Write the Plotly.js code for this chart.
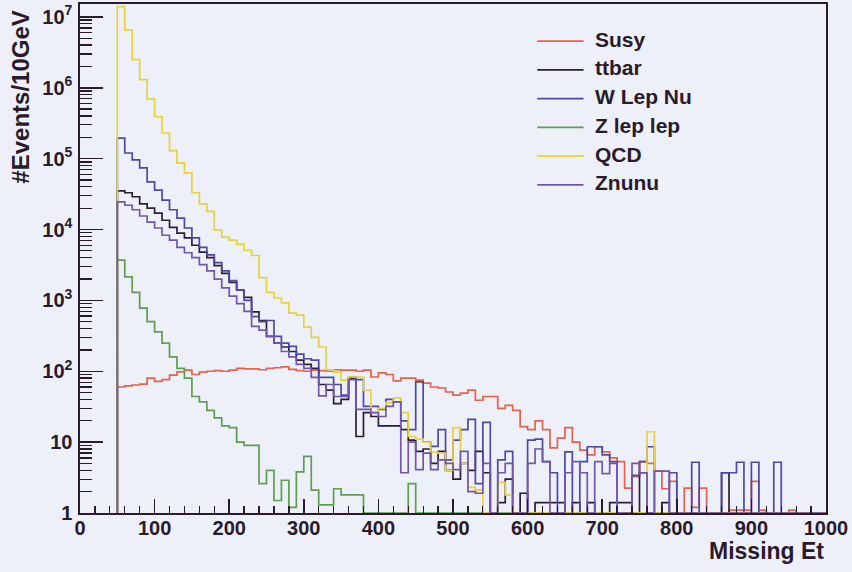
<!DOCTYPE html>
<html>
<head>
<meta charset="utf-8">
<script src="https://cdn.plot.ly/plotly-3.0.1.min.js"></script>
<style>
html,body{margin:0;padding:0;background:#edf0f8;}
#chart{width:852px;height:572px;}
</style>
</head>
<body>
<div id="chart"></div>
<script>
// Histogram bins: 10 GeV wide, first bin starts at 50 GeV (95 bins up to 1000 GeV)
const binLow = 50;
const binWidth = 10;
const seriesNames = ["Susy", "ttbar", "W Lep Nu", "Z lep lep", "QCD", "Znunu"];

const susy = [
  60, 62, 64, 66, 80, 72, 76, 88, 98, 104,
  90, 97, 100, 102, 100, 104, 110, 108, 108, 105,
  110, 112, 115, 106, 102, 100, 104, 102, 100, 105,
  104, 104, 100, 104, 83, 95, 90, 73, 80, 80,
  75, 68, 60, 58, 51, 46, 49, 54, 39, 44,
  44, 30, 33, 28, 16.5, 15, 20, 15, 8.3, 11.4,
  16, 10, 7.7, 6.6, 8.6, 7.3, 6, 5.3, 2.25, 3.25,
  5.3, 5, 3.9, 2.2, 2.8, 0, 2.25, 1.2, 2.25, 0,
  0, 0, 1.1, 1.1, 1.1, 2.8, 1.1, 0, 0, 0,
  1.1, 0, 0, 0, 0
];
const ttbar = [
  3.5e4, 3.3e4, 2.9e4, 2.3e4, 2.0e4, 1.7e4, 1.35e4, 1.07e4, 8.9e3, 7.6e3,
  6.0e3, 4.8e3, 4.0e3, 3.1e3, 2.4e3, 1.8e3, 1.4e3, 1.1e3, 690, 520,
  310, 250, 220, 190, 144, 125, 110, 65, 54, 35,
  40, 78, 12, 26, 23, 17, 17, 17, 15, 10.7,
  7.4, 8, 5, 7.4, 4, 3, 5, 4, 7.4, 3.7,
  0, 1.4, 3, 0, 1.9, 0, 1.4, 1.4, 1.4, 1.4,
  0, 1.4, 0, 1.4, 0, 0, 1.4, 1.4, 1.4, 0,
  3.7, 0, 0, 1.4, 0, 0, 0, 0, 0, 0,
  0, 3.7, 0, 0, 0, 0, 0, 0, 0, 0,
  0, 0, 0, 0, 0
];
const wLepNu = [
  1.95e5, 1.2e5, 9.6e4, 7.4e4, 4.7e4, 3.6e4, 2.6e4, 1.9e4, 1.45e4, 1.05e4,
  7.6e3, 5.6e3, 4.4e3, 3.4e3, 2.6e3, 1.9e3, 1.4e3, 1.0e3, 590, 500,
  520, 310, 250, 225, 175, 150, 144, 82, 82, 65,
  46, 82, 76, 32, 32, 29, 40, 37, 20, 15,
  71, 10, 8.7, 15, 5.6, 10.7, 15, 21, 2.6, 19,
  0, 5.6, 7.4, 0, 0, 10.7, 11, 5.3, 3.7, 0,
  7.3, 0, 5.3, 8.6, 8.6, 6.6, 5.3, 0, 0, 3.4,
  5.3, 8.6, 0, 0, 3.7, 0, 0, 5.2, 0, 0,
  0, 3.7, 3.7, 5.2, 0, 5.2, 0, 0, 5.2, 0,
  0, 0, 0, 0, 0
];
const zLepLep = [
  3700, 2150, 1300, 780, 500, 360, 250, 160, 110, 80,
  44, 37, 28, 22, 17, 16, 10, 9, 9, 2.6,
  4, 1.5, 2.9, 1.2, 3.8, 6.3, 2.1, 1.3, 1.3, 2.2,
  1.8, 1.8, 1.8, 0, 0, 0, 0, 0, 0, 2.6,
  0, 0, 0, 0, 0, 0, 0, 0, 0, 0,
  0, 0, 0, 0, 0, 0, 0, 0, 0, 0,
  0, 0, 0, 0, 0, 0, 0, 0, 0, 0,
  0, 0, 0, 0, 0, 0, 0, 0, 0, 0,
  0, 0, 0, 0, 0, 0, 0, 0, 0, 0,
  0, 0, 0, 0, 0
];
const qcd = [
  1.4e7, 6.5e6, 2.5e6, 1.3e6, 6.9e5, 3.9e5, 2.3e5, 1.3e5, 8.7e4, 6.3e4,
  3.3e4, 2.3e4, 1.8e4, 9.8e3, 7.8e3, 7.1e3, 6.2e3, 5.1e3, 4.3e3, 2.1e3,
  1.3e3, 1.08e3, 920, 660, 620, 420, 300, 220, 105, 97,
  75, 83, 83, 54, 26, 30, 36, 42, 26, 12,
  11, 10, 7.2, 7, 4, 16, 5, 2.3, 2.1, 0,
  0, 2.7, 1.8, 0, 0, 0, 0, 0, 0, 0,
  0, 0, 0, 0, 0, 0, 0, 0, 0, 0,
  0, 14, 0, 0, 0, 0, 0, 0, 0, 0,
  0, 0, 0, 0, 0, 0, 0, 0, 0, 0,
  0, 0, 0, 0, 0
];
const znunu = [
  2.46e4, 2.2e4, 1.9e4, 1.55e4, 1.27e4, 1.05e4, 8.3e3, 7.1e3, 5.6e3, 4.7e3,
  4.0e3, 3.2e3, 2.6e3, 2.0e3, 1.5e3, 1.15e3, 900, 700, 430, 380,
  310, 250, 190, 160, 125, 110, 82, 45, 65, 44,
  44, 76, 29, 29, 26, 23, 32, 37, 3.7, 10,
  4.1, 7, 4.1, 5.6, 5, 4.1, 7.4, 2, 1.9, 5,
  0, 3.7, 5, 0, 0, 5, 8, 5.3, 0, 0,
  3.7, 5.3, 3.7, 0, 5.3, 3.6, 5, 0, 0, 5,
  3.7, 0, 3.9, 3.9, 0, 0, 0, 0, 0, 0,
  0, 0, 0, 0, 0, 0, 0, 0, 0, 0,
  0, 0, 0, 0, 0
];

const xTickVals = [0, 100, 200, 300, 400, 500, 600, 700, 800, 900, 1000];
const yTickVals = [1, 10, 100, 1e3, 1e4, 1e5, 1e6, 1e7];
const yTickText = ["1", "10", "10<sup>2</sup>", "10<sup>3</sup>", "10<sup>4</sup>", "10<sup>5</sup>", "10<sup>6</sup>", "10<sup>7</sup>"];

const colors = ["#e8604e", "#2e1e32", "#4c4aa6", "#5f9e50", "#e6d23c", "#7456a8"];
const allSeries = [susy, ttbar, wLepNu, zLepLep, qcd, znunu];

const yFloor = 1;   // ROOT draws empty bins on the log-scale minimum
const yMaxAxis = 1.52e7;
const ink = "#2a1a2c";
const fam = "Liberation Sans, Arial, sans-serif";

function stepTrace(vals, name, color) {
  const xs = [binLow], ys = [yFloor];
  vals.forEach((v, i) => { xs.push(binLow + i * binWidth); ys.push(v > yFloor ? v : yFloor); });
  const xEnd = binLow + vals.length * binWidth;
  xs.push(xEnd); ys.push(ys[ys.length - 1]);
  xs.push(xEnd); ys.push(yFloor);
  return {
    type: "scatter", mode: "lines", x: xs, y: ys, name: name,
    line: { shape: "hv", color: color, width: 1.7 },
    hoverinfo: "skip", showlegend: false
  };
}

const traces = allSeries.map((s, i) => stepTrace(s, seriesNames[i], colors[i]));

const minorY = [];
for (let d = 0; d < 8; d++) for (let m = 2; m <= 9; m++) { const v = m * Math.pow(10, d); if (v < yMaxAxis) minorY.push(v); }

// Legend box (ROOT TLegend style), in paper coordinates
const legX0 = 0.613, legX1 = 0.675, legTextX = 0.688, legTopY = 0.927, legStep = 0.0565;
const shapes = [], annotations = [];
seriesNames.forEach((n, i) => {
  const y = legTopY - i * legStep;
  shapes.push({ type: "line", xref: "paper", yref: "paper", x0: legX0, x1: legX1, y0: y, y1: y,
    line: { color: colors[i], width: 1.7 } });
  annotations.push({ text: n, xref: "paper", yref: "paper", x: legTextX, y: y + 0.004, xanchor: "left", yanchor: "middle",
    showarrow: false, font: { family: fam, size: 21, color: ink, weight: "bold" } });
});
annotations.push(
  { text: "Missing Et", xref: "paper", yref: "paper", x: 1, y: -0.075, xanchor: "right", yanchor: "middle",
    showarrow: false, font: { family: fam, size: 23, color: ink, weight: "bold" } },
  { text: "#Events/10GeV", xref: "paper", yref: "paper", x: -0.079, y: 0.99, xanchor: "center", yanchor: "top",
    textangle: -90, showarrow: false, font: { family: fam, size: 24, color: ink, weight: "bold" } }
);

const tickFont = { family: fam, size: 20, color: ink, weight: "bold" };

const layout = {
  width: 852, height: 572,
  paper_bgcolor: "#edf0f8", plot_bgcolor: "#edf0f8",
  margin: { l: 80, r: 26, t: 4, b: 59 },
  showlegend: false,
  xaxis: {
    range: [0, 1000], tickmode: "array", tickvals: xTickVals,
    ticks: "inside", ticklen: 14, tickwidth: 1.5, tickcolor: ink,
    minor: { ticks: "inside", ticklen: 7, tickwidth: 1.3, tickcolor: ink, dtick: 20, tick0: 0, showgrid: false },
    showline: true, linecolor: ink, linewidth: 1.6, mirror: true,
    showgrid: false, zeroline: false, tickfont: tickFont, ticklabelstandoff: -4
  },
  yaxis: {
    type: "log", range: [0, Math.log10(yMaxAxis)],
    tickmode: "array", tickvals: yTickVals, ticktext: yTickText,
    ticks: "inside", ticklen: 23, tickwidth: 1.5, tickcolor: ink,
    minor: { ticks: "inside", ticklen: 12, tickwidth: 1.3, tickcolor: ink, tickmode: "array", tickvals: minorY, showgrid: false },
    showline: true, linecolor: ink, linewidth: 1.6, mirror: true,
    showgrid: false, zeroline: false, tickfont: tickFont, ticklabelstandoff: 2
  },
  shapes: shapes,
  annotations: annotations
};

Plotly.newPlot("chart", traces, layout, { displayModeBar: false, staticPlot: true });
</script>
</body>
</html>
